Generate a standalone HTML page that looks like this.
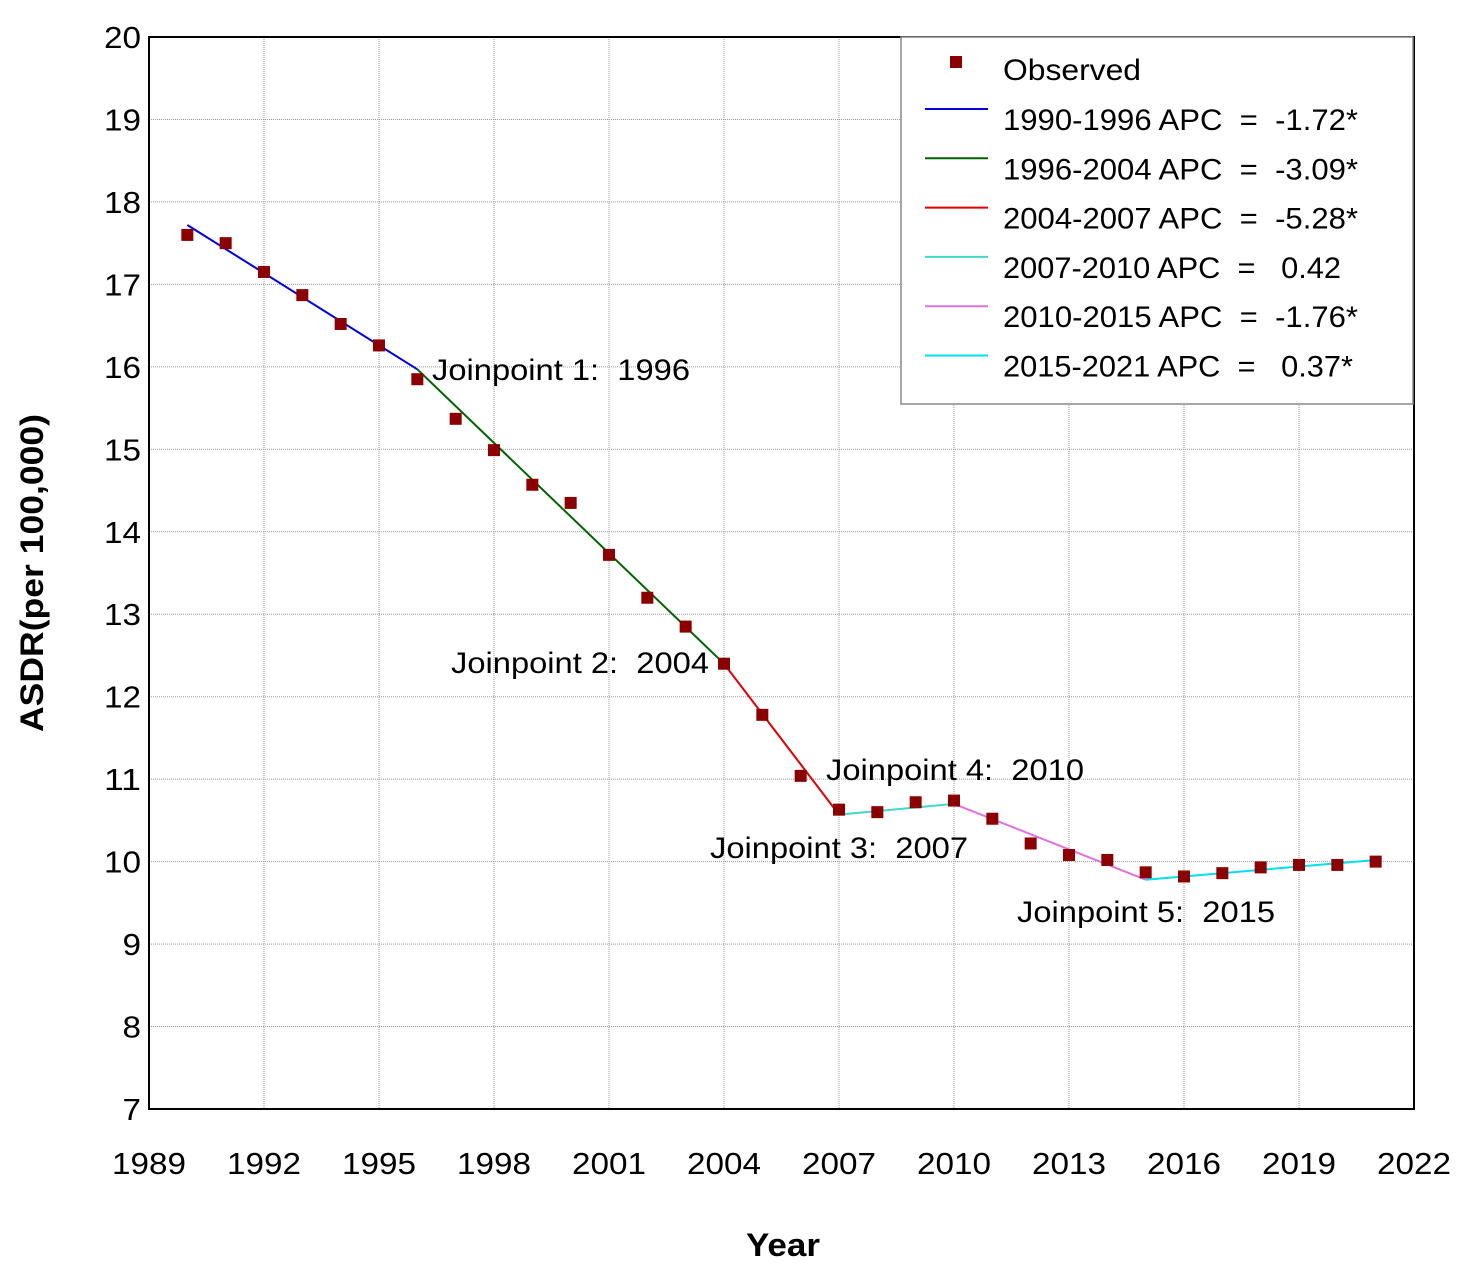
<!DOCTYPE html>
<html><head><meta charset="utf-8"><style>
body{margin:0;background:#fff;}
svg text{font-family:"Liberation Sans",sans-serif;}
</style></head><body>
<svg id="chart" width="1470" height="1265" xmlns="http://www.w3.org/2000/svg">
<rect width="1470" height="1265" fill="#fff"/>
<g id="grid"></g>
<g id="fits"></g>
<g id="points"></g>
<rect x="149" y="37" width="1265" height="1072" fill="none" stroke="#000" stroke-width="2"/>
<g id="ticks" font-size="31" fill="#000"></g>
<text x="783" y="1256" font-size="32" font-weight="bold" text-anchor="middle" textLength="74" lengthAdjust="spacingAndGlyphs">Year</text>
<text transform="translate(43,573) rotate(-90)" font-size="32" font-weight="bold" text-anchor="middle" textLength="318" lengthAdjust="spacingAndGlyphs">ASDR(per 100,000)</text>
<g font-size="30" fill="#000">
<text x="432" y="380" textLength="258" lengthAdjust="spacingAndGlyphs" xml:space="preserve">Joinpoint 1:  1996</text>
<text x="451" y="673" textLength="258" lengthAdjust="spacingAndGlyphs" xml:space="preserve">Joinpoint 2:  2004</text>
<text x="826" y="780" textLength="258" lengthAdjust="spacingAndGlyphs" xml:space="preserve">Joinpoint 4:  2010</text>
<text x="710" y="858" textLength="258" lengthAdjust="spacingAndGlyphs" xml:space="preserve">Joinpoint 3:  2007</text>
<text x="1017" y="922" textLength="258" lengthAdjust="spacingAndGlyphs" xml:space="preserve">Joinpoint 5:  2015</text>
</g>
<g id="legend">
<rect x="901" y="37" width="512" height="367" fill="#fff" stroke="#888" stroke-width="1.5"/>
</g>
</svg>
<script>
const years=[1990,1991,1992,1993,1994,1995,1996,1997,1998,1999,2000,2001,2002,2003,2004,2005,2006,2007,2008,2009,2010,2011,2012,2013,2014,2015,2016,2017,2018,2019,2020,2021];
const observed=[17.6,17.5,17.15,16.87,16.52,16.26,15.85,15.37,14.99,14.57,14.35,13.72,13.2,12.85,12.4,11.78,11.04,10.63,10.6,10.72,10.74,10.52,10.22,10.08,10.02,9.87,9.82,9.86,9.93,9.96,9.96,10.0];
const segStartYears=[1990,1996,2004,2007,2010,2015];
const segEndYears=[1996,2004,2007,2010,2015,2021];
const segStartVals=[17.72,15.97,12.4,10.57,10.7,9.78];
const segEndVals=[15.97,12.4,10.57,10.7,9.78,10.02];
const segColors=["#0000e0","#006400","#e00000","#40d8c8","#e070e0","#00e0f0"];
const segLabels=["1990-1996 APC  =  -1.72*","1996-2004 APC  =  -3.09*","2004-2007 APC  =  -5.28*","2007-2010 APC  =   0.42","2010-2015 APC  =  -1.76*","2015-2021 APC  =   0.37*"];
const segLabelWidths=[355,355,355,338,355,350];
const xTicks=[1989,1992,1995,1998,2001,2004,2007,2010,2013,2016,2019,2022];
const yTicks=[7,8,9,10,11,12,13,14,15,16,17,18,19,20];

const NS="http://www.w3.org/2000/svg";
const X=v=>149+(v-1989)*(1265/33);
const Y=v=>1109-(v-7)*(1072/13);
function mk(tag,attrs,parent){const e=document.createElementNS(NS,tag);for(const k in attrs)e.setAttribute(k,attrs[k]);parent.appendChild(e);return e;}
const grid=document.getElementById('grid'),ticks=document.getElementById('ticks');
xTicks.forEach(t=>{
 const l=mk('line',{x1:X(t),x2:X(t),y1:37,y2:1109,stroke:'#999','stroke-dasharray':'1,1'},grid);
 
 
 const tx=mk('text',{x:X(t),y:1174,'text-anchor':'middle',textLength:74,lengthAdjust:'spacingAndGlyphs'},ticks);tx.textContent=t;
 
 
});
yTicks.forEach(t=>{
 const l=mk('line',{x1:149,x2:1414,y1:Y(t),y2:Y(t),stroke:'#999','stroke-dasharray':'1,1'},grid);
 
 
 const w=String(t).length*18.5;
 const tx=mk('text',{x:141,y:Y(t)+11,'text-anchor':'end',textLength:w,lengthAdjust:'spacingAndGlyphs'},ticks);tx.textContent=t;
 
 
});
const fits=document.getElementById('fits');
segStartYears.forEach((s,i)=>{
 const l=mk('line',{x1:X(s),y1:Y(segStartVals[i]),x2:X(segEndYears[i]),y2:Y(segEndVals[i]),stroke:segColors[i],'stroke-width':2},fits);
 
 
});
const pts=document.getElementById('points');
years.forEach((y,i)=>{
 const r=mk('rect',{x:X(y)-6,y:Y(observed[i])-6,width:12,height:12,fill:'#8b0000'},pts);
 
 
});
const lg=document.getElementById('legend');
const m=mk('rect',{x:950,y:56,width:12,height:12,fill:'#8b0000'},lg);


const ot=mk('text',{x:1003,y:80,'font-size':30,textLength:138,lengthAdjust:'spacingAndGlyphs'},lg);ot.textContent='Observed';


segLabels.forEach((s,i)=>{
 const yy=109+i*49.3;
 const l=mk('line',{x1:925,x2:988,y1:yy,y2:yy,stroke:segColors[i],'stroke-width':2},lg);
 
 
 const t=mk('text',{x:1003,y:yy+21,'font-size':30,textLength:segLabelWidths[i],lengthAdjust:'spacingAndGlyphs'},lg);
 t.setAttribute('xml:space','preserve');t.style.whiteSpace='pre';t.textContent=s;
 
 
});
</script>
</body></html>
